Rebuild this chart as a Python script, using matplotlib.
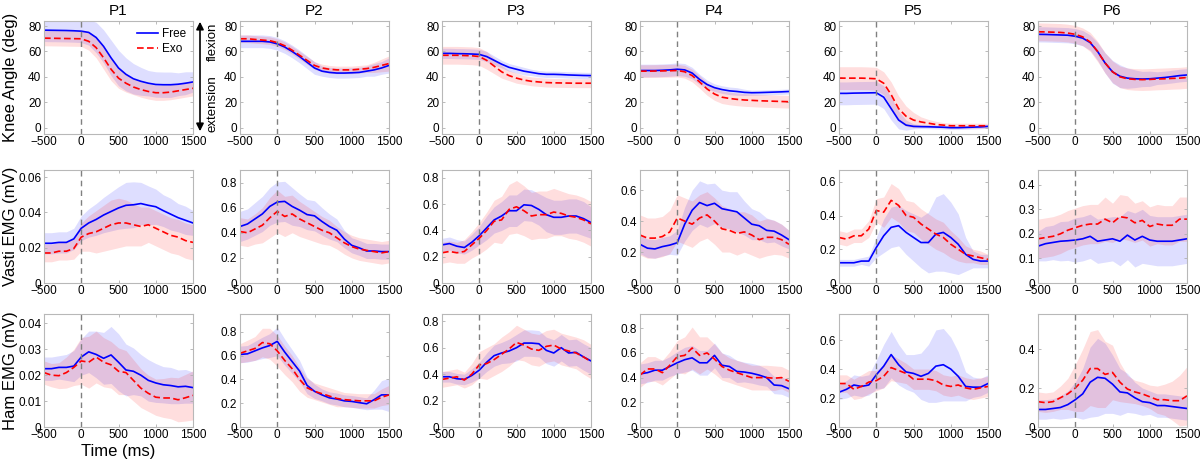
import matplotlib
matplotlib.use("Agg")
import matplotlib.pyplot as plt
import numpy as np

plt.rcParams["font.family"] = ["Liberation Sans", "DejaVu Sans"]

# time axis (ms), one sample every 100 ms
time_ms = list(range(-500, 1501, 100))
participants = ["P1", "P2", "P3", "P4", "P5", "P6"]
row_labels = ["Knee Angle (deg)", "Vasti EMG (mV)", "Ham EMG (mV)"]

# ---- knee angle (deg): mean and sd, one list per participant ----
knee_free = [
    [76.8, 76.7, 76.6, 76.5, 76.3, 76.0, 75, 71, 64, 55, 47, 42, 38.5, 36.5, 35, 34, 33.8, 33.8, 34.2, 35, 36],
    [68, 68, 68, 68, 67.5, 66, 63.5, 60, 56, 51.5, 47, 44.5, 43.5, 43, 43, 43.2, 43.5, 44.5, 45.5, 47, 49],
    [58.5, 58.5, 58.3, 58.2, 58, 57.7, 56, 53, 50, 47.5, 46, 44.5, 43.5, 42.5, 42, 42, 41.8, 41.5, 41.3, 41.1, 41],
    [45, 45, 45, 45.2, 45.5, 46, 45.5, 43, 38, 34, 31.5, 30, 29, 28.5, 27.8, 27.5, 27.6, 27.8, 28, 28.2, 28.5],
    [27, 27, 27.2, 27.3, 27.4, 27.5, 24, 15, 6, 2, 1, 0.8, 0.7, 0.5, 0.3, 0, 0, 0.2, 0.4, 0.6, 1],
    [73.5, 73.4, 73.2, 73, 72.8, 72, 70.5, 67, 60, 51, 44, 40.5, 39, 38.5, 38.3, 38.5, 39, 39.5, 40.2, 41, 41.5],
]
knee_free_sd = [
    [9, 9, 9, 9, 9, 9, 10, 12, 13, 14, 14, 13, 12, 11, 10, 10, 10, 10, 9, 9, 8],
    [5, 5, 5, 5, 5, 5, 5, 5, 5, 5, 5, 4, 4, 4, 4, 4, 4, 4, 5, 5, 6],
    [4, 4, 4, 4, 4, 4, 4, 3.5, 3, 3, 3, 3, 2.5, 2.5, 2.5, 2.5, 2.5, 2.5, 2.5, 2.5, 2.5],
    [5, 5, 5, 5, 5, 5, 5, 4.5, 4, 3.5, 3, 3, 3, 3, 2.5, 2, 2, 2, 2, 2, 2],
    [9, 9, 9, 9, 9, 9, 9, 9, 7, 4, 2, 1.5, 1.5, 1.5, 1.5, 1.5, 1.5, 1.5, 1.5, 1.5, 1.5],
    [6, 6, 6, 6, 6, 6, 6, 6, 7, 8, 9, 9, 8, 7, 6, 6, 5, 5, 5, 5, 5],
]
knee_exo = [
    [70.5, 70.4, 70.3, 70.2, 70.1, 70, 68, 63, 55, 46, 39, 35, 32, 30, 28.5, 27.5, 27.5, 28, 29, 30, 31],
    [70, 70, 69.5, 69, 68.5, 67, 64.5, 61, 57, 53, 49, 47, 46, 45.5, 45.5, 45.5, 46, 46.5, 47.5, 49, 50.5],
    [57, 57, 57, 56.8, 56.6, 56, 53, 48.5, 44, 41, 39, 37.5, 36.5, 36, 35.5, 35.3, 35.2, 35.1, 35, 35, 35],
    [44.5, 44.5, 44.6, 44.7, 44.8, 45, 44, 41, 36, 30.5, 26.5, 24, 23, 22.3, 21.8, 21.5, 21.2, 21, 20.8, 20.6, 20.4],
    [39, 39, 39, 39, 38.8, 38.5, 35, 26, 15, 9, 6, 4.5, 3.5, 2.5, 2, 1.5, 1.5, 1.5, 1.5, 1.5, 1.5],
    [75.5, 75.4, 75.2, 75, 74.5, 73.5, 71.5, 67.5, 60, 51, 44, 40, 38.5, 38, 37.8, 38, 38.3, 38.5, 38.8, 39, 39.5],
]
knee_exo_sd = [
    [6, 6, 6, 6, 6, 6, 7, 8, 9, 9, 8, 7, 6, 6, 6, 6, 6, 6, 6, 6, 6],
    [3, 3, 3, 3, 3, 3, 3, 3, 3, 3, 3, 3, 3, 3, 3, 3, 3, 3, 4, 5, 6],
    [7, 7, 7, 7, 7, 7, 7, 6, 5, 4, 4, 3.5, 3.5, 3.5, 3.5, 3.5, 3.5, 3.5, 3.5, 3.5, 3.5],
    [5, 5, 5, 5, 5, 5, 5, 5, 5, 5, 5, 5, 5, 5, 5, 5, 5, 5, 5, 5, 5],
    [9, 9, 9, 9, 9, 9, 9, 10, 10, 8, 6, 4, 3, 2.5, 2, 2, 2, 2, 2, 2, 2],
    [7, 7, 7, 7, 7, 7, 7, 7.5, 8, 8, 8.5, 8.5, 8.5, 8.5, 8.5, 8.5, 8.5, 8.5, 8.5, 8.5, 8.5],
]

# ---- vasti EMG (mV) ----
vasti_free = [
    [0.0225, 0.0225, 0.023, 0.023, 0.025, 0.031, 0.034, 0.036, 0.0385, 0.0405, 0.0425, 0.044, 0.0443, 0.045, 0.044, 0.0432, 0.041, 0.039, 0.037, 0.0355, 0.034],
    [0.45, 0.47, 0.51, 0.55, 0.61, 0.645, 0.65, 0.61, 0.58, 0.545, 0.535, 0.49, 0.45, 0.42, 0.35, 0.30, 0.28, 0.255, 0.255, 0.25, 0.25],
    [0.29, 0.30, 0.28, 0.27, 0.31, 0.36, 0.42, 0.48, 0.51, 0.55, 0.55, 0.595, 0.59, 0.56, 0.52, 0.50, 0.50, 0.51, 0.51, 0.49, 0.46],
    [0.25, 0.225, 0.22, 0.235, 0.245, 0.26, 0.38, 0.47, 0.52, 0.50, 0.515, 0.48, 0.47, 0.46, 0.42, 0.38, 0.37, 0.34, 0.335, 0.31, 0.28],
    [0.12, 0.12, 0.12, 0.13, 0.13, 0.21, 0.28, 0.33, 0.34, 0.30, 0.27, 0.24, 0.24, 0.29, 0.30, 0.27, 0.23, 0.17, 0.14, 0.13, 0.13],
    [0.15, 0.16, 0.165, 0.17, 0.172, 0.175, 0.18, 0.19, 0.17, 0.175, 0.18, 0.17, 0.195, 0.175, 0.19, 0.175, 0.17, 0.17, 0.17, 0.175, 0.18],
]
vasti_free_sd = [
    [0.006, 0.006, 0.006, 0.006, 0.006, 0.007, 0.008, 0.009, 0.010, 0.011, 0.012, 0.013, 0.013, 0.012, 0.011, 0.010, 0.009, 0.009, 0.008, 0.008, 0.007],
    [0.12, 0.12, 0.13, 0.14, 0.15, 0.16, 0.16, 0.15, 0.13, 0.12, 0.12, 0.11, 0.10, 0.09, 0.07, 0.06, 0.06, 0.06, 0.06, 0.06, 0.06],
    [0.05, 0.05, 0.05, 0.05, 0.06, 0.07, 0.09, 0.10, 0.11, 0.12, 0.12, 0.12, 0.12, 0.12, 0.13, 0.13, 0.13, 0.13, 0.13, 0.13, 0.12],
    [0.06, 0.06, 0.06, 0.06, 0.06, 0.08, 0.11, 0.13, 0.14, 0.14, 0.13, 0.12, 0.12, 0.13, 0.11, 0.10, 0.09, 0.08, 0.07, 0.07, 0.06],
    [0.02, 0.02, 0.02, 0.02, 0.03, 0.06, 0.10, 0.12, 0.12, 0.13, 0.14, 0.15, 0.18, 0.22, 0.23, 0.21, 0.18, 0.10, 0.05, 0.04, 0.04],
    [0.06, 0.07, 0.07, 0.08, 0.08, 0.09, 0.09, 0.09, 0.09, 0.09, 0.09, 0.10, 0.10, 0.11, 0.11, 0.10, 0.10, 0.10, 0.10, 0.10, 0.10],
]
vasti_exo = [
    [0.017, 0.017, 0.018, 0.018, 0.0195, 0.026, 0.028, 0.029, 0.031, 0.033, 0.034, 0.034, 0.033, 0.032, 0.033, 0.031, 0.029, 0.027, 0.026, 0.024, 0.023],
    [0.41, 0.40, 0.43, 0.46, 0.52, 0.57, 0.53, 0.55, 0.51, 0.48, 0.45, 0.42, 0.40, 0.36, 0.32, 0.29, 0.27, 0.26, 0.25, 0.24, 0.25],
    [0.23, 0.24, 0.23, 0.24, 0.29, 0.34, 0.40, 0.47, 0.48, 0.56, 0.58, 0.55, 0.51, 0.52, 0.52, 0.54, 0.53, 0.51, 0.50, 0.48, 0.45],
    [0.31, 0.29, 0.29, 0.30, 0.33, 0.42, 0.40, 0.38, 0.42, 0.44, 0.40, 0.35, 0.34, 0.32, 0.33, 0.31, 0.28, 0.295, 0.295, 0.28, 0.25],
    [0.27, 0.26, 0.28, 0.28, 0.32, 0.43, 0.42, 0.49, 0.46, 0.40, 0.39, 0.35, 0.32, 0.29, 0.27, 0.23, 0.20, 0.17, 0.16, 0.15, 0.14],
    [0.18, 0.185, 0.19, 0.20, 0.215, 0.225, 0.235, 0.24, 0.24, 0.26, 0.245, 0.27, 0.265, 0.245, 0.255, 0.23, 0.24, 0.235, 0.235, 0.26, 0.26],
]
vasti_exo_sd = [
    [0.005, 0.005, 0.005, 0.005, 0.006, 0.008, 0.010, 0.012, 0.013, 0.014, 0.014, 0.013, 0.012, 0.011, 0.010, 0.010, 0.010, 0.010, 0.010, 0.010, 0.010],
    [0.11, 0.11, 0.12, 0.14, 0.16, 0.17, 0.16, 0.15, 0.14, 0.13, 0.12, 0.11, 0.10, 0.09, 0.09, 0.09, 0.09, 0.09, 0.09, 0.09, 0.09],
    [0.08, 0.08, 0.08, 0.09, 0.10, 0.12, 0.14, 0.16, 0.18, 0.19, 0.20, 0.19, 0.18, 0.18, 0.18, 0.18, 0.17, 0.17, 0.17, 0.17, 0.17],
    [0.13, 0.13, 0.13, 0.13, 0.14, 0.15, 0.15, 0.15, 0.15, 0.15, 0.15, 0.15, 0.14, 0.14, 0.13, 0.13, 0.12, 0.12, 0.11, 0.10, 0.09],
    [0.04, 0.04, 0.04, 0.04, 0.05, 0.07, 0.09, 0.10, 0.10, 0.09, 0.09, 0.09, 0.09, 0.09, 0.09, 0.08, 0.07, 0.05, 0.04, 0.04, 0.03],
    [0.08, 0.08, 0.08, 0.08, 0.08, 0.08, 0.08, 0.08, 0.08, 0.09, 0.08, 0.09, 0.09, 0.08, 0.08, 0.08, 0.08, 0.08, 0.08, 0.09, 0.09],
]

# ---- hamstring EMG (mV) ----
ham_free = [
    [0.0225, 0.0225, 0.023, 0.023, 0.0235, 0.027, 0.029, 0.028, 0.0265, 0.0278, 0.025, 0.022, 0.0215, 0.020, 0.018, 0.017, 0.0163, 0.016, 0.0155, 0.0157, 0.0152],
    [0.61, 0.615, 0.64, 0.665, 0.685, 0.72, 0.63, 0.55, 0.47, 0.35, 0.30, 0.27, 0.245, 0.235, 0.22, 0.215, 0.205, 0.195, 0.23, 0.27, 0.27],
    [0.38, 0.38, 0.365, 0.36, 0.39, 0.43, 0.49, 0.54, 0.56, 0.575, 0.60, 0.635, 0.635, 0.63, 0.58, 0.56, 0.60, 0.56, 0.565, 0.53, 0.50],
    [0.43, 0.44, 0.46, 0.46, 0.49, 0.52, 0.545, 0.56, 0.52, 0.52, 0.58, 0.50, 0.49, 0.45, 0.445, 0.435, 0.42, 0.40, 0.34, 0.335, 0.31],
    [0.24, 0.26, 0.29, 0.28, 0.29, 0.36, 0.42, 0.50, 0.43, 0.38, 0.37, 0.35, 0.37, 0.42, 0.43, 0.40, 0.35, 0.28, 0.275, 0.275, 0.30],
    [0.09, 0.09, 0.095, 0.10, 0.115, 0.14, 0.17, 0.23, 0.255, 0.25, 0.22, 0.18, 0.175, 0.15, 0.13, 0.125, 0.11, 0.11, 0.105, 0.10, 0.095],
]
ham_free_sd = [
    [0.0045, 0.0045, 0.0045, 0.005, 0.006, 0.007, 0.008, 0.009, 0.010, 0.011, 0.011, 0.010, 0.009, 0.008, 0.008, 0.0075, 0.007, 0.007, 0.0065, 0.0065, 0.006],
    [0.07, 0.07, 0.08, 0.09, 0.10, 0.12, 0.11, 0.10, 0.09, 0.07, 0.06, 0.05, 0.05, 0.05, 0.05, 0.05, 0.05, 0.05, 0.08, 0.12, 0.14],
    [0.04, 0.04, 0.04, 0.04, 0.05, 0.06, 0.07, 0.08, 0.08, 0.09, 0.10, 0.10, 0.10, 0.10, 0.10, 0.10, 0.10, 0.10, 0.10, 0.10, 0.10],
    [0.08, 0.08, 0.08, 0.08, 0.08, 0.09, 0.10, 0.10, 0.10, 0.10, 0.10, 0.10, 0.09, 0.09, 0.08, 0.08, 0.08, 0.07, 0.07, 0.07, 0.07],
    [0.05, 0.06, 0.07, 0.07, 0.07, 0.10, 0.15, 0.16, 0.14, 0.12, 0.13, 0.16, 0.20, 0.25, 0.25, 0.22, 0.17, 0.10, 0.07, 0.06, 0.06],
    [0.05, 0.05, 0.05, 0.06, 0.07, 0.09, 0.13, 0.18, 0.20, 0.18, 0.15, 0.12, 0.10, 0.08, 0.07, 0.06, 0.06, 0.06, 0.06, 0.06, 0.06],
]
ham_exo = [
    [0.021, 0.020, 0.0198, 0.021, 0.023, 0.0255, 0.025, 0.027, 0.025, 0.024, 0.0215, 0.021, 0.018, 0.015, 0.013, 0.0115, 0.0112, 0.0112, 0.0105, 0.0113, 0.0122],
    [0.62, 0.64, 0.66, 0.71, 0.70, 0.64, 0.56, 0.49, 0.40, 0.33, 0.30, 0.28, 0.26, 0.24, 0.23, 0.225, 0.22, 0.22, 0.22, 0.25, 0.27],
    [0.36, 0.37, 0.38, 0.355, 0.40, 0.47, 0.48, 0.51, 0.55, 0.59, 0.64, 0.62, 0.59, 0.58, 0.61, 0.62, 0.59, 0.575, 0.56, 0.53, 0.495],
    [0.42, 0.47, 0.47, 0.44, 0.50, 0.57, 0.58, 0.64, 0.58, 0.60, 0.55, 0.49, 0.46, 0.44, 0.42, 0.40, 0.40, 0.40, 0.395, 0.40, 0.37],
    [0.30, 0.30, 0.26, 0.28, 0.31, 0.32, 0.35, 0.41, 0.39, 0.37, 0.33, 0.33, 0.33, 0.32, 0.29, 0.28, 0.29, 0.27, 0.26, 0.27, 0.28],
    [0.13, 0.125, 0.13, 0.15, 0.17, 0.20, 0.24, 0.30, 0.30, 0.27, 0.28, 0.23, 0.195, 0.18, 0.17, 0.155, 0.14, 0.14, 0.135, 0.135, 0.16],
]
ham_exo_sd = [
    [0.0045, 0.0045, 0.005, 0.006, 0.007, 0.009, 0.010, 0.010, 0.0095, 0.009, 0.009, 0.0085, 0.008, 0.0075, 0.007, 0.007, 0.0075, 0.008, 0.0085, 0.009, 0.0095],
    [0.08, 0.09, 0.10, 0.12, 0.13, 0.13, 0.12, 0.11, 0.10, 0.08, 0.07, 0.07, 0.07, 0.07, 0.06, 0.06, 0.06, 0.06, 0.06, 0.07, 0.08],
    [0.06, 0.06, 0.06, 0.06, 0.08, 0.10, 0.12, 0.12, 0.13, 0.13, 0.13, 0.12, 0.12, 0.12, 0.12, 0.12, 0.12, 0.12, 0.12, 0.13, 0.13],
    [0.10, 0.10, 0.10, 0.10, 0.11, 0.13, 0.15, 0.17, 0.15, 0.13, 0.12, 0.11, 0.10, 0.10, 0.10, 0.10, 0.10, 0.10, 0.10, 0.09, 0.09],
    [0.06, 0.06, 0.07, 0.08, 0.08, 0.07, 0.08, 0.09, 0.08, 0.07, 0.07, 0.07, 0.07, 0.07, 0.07, 0.07, 0.07, 0.07, 0.07, 0.07, 0.07],
    [0.05, 0.05, 0.05, 0.06, 0.08, 0.12, 0.16, 0.19, 0.20, 0.17, 0.14, 0.10, 0.07, 0.06, 0.06, 0.06, 0.07, 0.08, 0.10, 0.13, 0.15],
]

# axis limits / ticks per row and participant
knee_ylim = [(-5, 84)] * 6
knee_yticks = [[0, 20, 40, 60, 80]] * 6
vasti_ylim = [(0, 0.064), (0, 0.9), (0, 0.86), (0, 0.73), (0, 0.67), (0, 0.46)]
vasti_yticks = [[0, 0.02, 0.04, 0.06], [0, 0.2, 0.4, 0.6, 0.8], [0, 0.2, 0.4, 0.6, 0.8],
                [0, 0.2, 0.4, 0.6], [0, 0.2, 0.4, 0.6], [0, 0.1, 0.2, 0.3, 0.4]]
ham_ylim = [(0, 0.0436), (0, 0.95), (0, 0.855), (0, 0.915), (0, 0.78), (0, 0.58)]
ham_yticks = [[0, 0.01, 0.02, 0.03, 0.04], [0, 0.2, 0.4, 0.6, 0.8], [0, 0.2, 0.4, 0.6, 0.8],
              [0, 0.2, 0.4, 0.6, 0.8], [0, 0.2, 0.4, 0.6], [0, 0.2, 0.4]]

BLUE = "#0000ff"
RED = "#ff0000"
W, H = 1200, 465
col_left = [44, 240, 442, 640, 839, 1038]
col_width = 149
row_top = [21, 170, 314]
row_height = 113

fig = plt.figure(figsize=(W / 100, H / 100), dpi=100)

rows = [
    (knee_free, knee_free_sd, knee_exo, knee_exo_sd, knee_ylim, knee_yticks),
    (vasti_free, vasti_free_sd, vasti_exo, vasti_exo_sd, vasti_ylim, vasti_yticks),
    (ham_free, ham_free_sd, ham_exo, ham_exo_sd, ham_ylim, ham_yticks),
]

t = np.array(time_ms)
for r, (free, free_sd, exo, exo_sd, ylims, yticks) in enumerate(rows):
    for c in range(6):
        ax = fig.add_axes([col_left[c] / W, 1 - (row_top[r] + row_height) / H,
                           col_width / W, row_height / H])
        fm, fs = np.array(free[c]), np.array(free_sd[c])
        em, es = np.array(exo[c]), np.array(exo_sd[c])
        ax.fill_between(t, fm - fs, fm + fs, color=BLUE, alpha=0.13, lw=0)
        ax.fill_between(t, em - es, em + es, color=RED, alpha=0.13, lw=0)
        ax.plot(t, fm, color=BLUE, lw=1.2, label="Free")
        ax.plot(t, em, color=RED, lw=1.2, ls=(0, (4, 2)), label="Exo")
        ax.axvline(0, color="#808080", lw=1, ls=(0, (4, 3)))
        ax.set_xlim(-500, 1500)
        ax.set_ylim(*ylims[c])
        ax.set_xticks([-500, 0, 500, 1000, 1500])
        ax.set_yticks(yticks[c])
        ax.set_yticklabels([f"{v:g}" for v in yticks[c]])
        ax.tick_params(direction="in", length=2.5, width=0.6, color="#b0b0b0",
                       labelsize=8.5, top=True, right=True)
        ax.tick_params(axis="x", pad=1.5)
        ax.tick_params(axis="y", pad=2)
        for s in ax.spines.values():
            s.set_color("#b8b8b8")
            s.set_linewidth(0.8)
        if r == 0:
            ax.set_title(participants[c], fontsize=11, pad=4)
        if r == 0 and c == 0:
            ax.legend(loc="upper right", frameon=False, fontsize=8.5,
                      handlelength=1.8, handletextpad=0.3, labelspacing=0.25,
                      borderaxespad=0.2)
        if r == 2 and c == 0:
            ax.set_xlabel("Time (ms)", fontsize=12, labelpad=2)
    # row label, centred on the row
    fig.text(11 / W, 1 - (row_top[r] + row_height / 2) / H, row_labels[r],
             rotation=90, ha="center", va="center", fontsize=12)

# flexion / extension arrow between P1 and P2 of the knee row
ax_x = 200 / W
fig.patches.append(matplotlib.patches.FancyArrowPatch(
    (ax_x, 1 - 19 / H), (ax_x, 1 - 134 / H), transform=fig.transFigure,
    arrowstyle="<|-|>", mutation_scale=11, color="black", lw=1.2))
fig.text(213 / W, 1 - 42 / H, "flexion", rotation=90, ha="center", va="center", fontsize=9.5)
fig.text(213 / W, 1 - 104 / H, "extension", rotation=90, ha="center", va="center", fontsize=9.5)

fig.savefig("out.png", dpi=100)
